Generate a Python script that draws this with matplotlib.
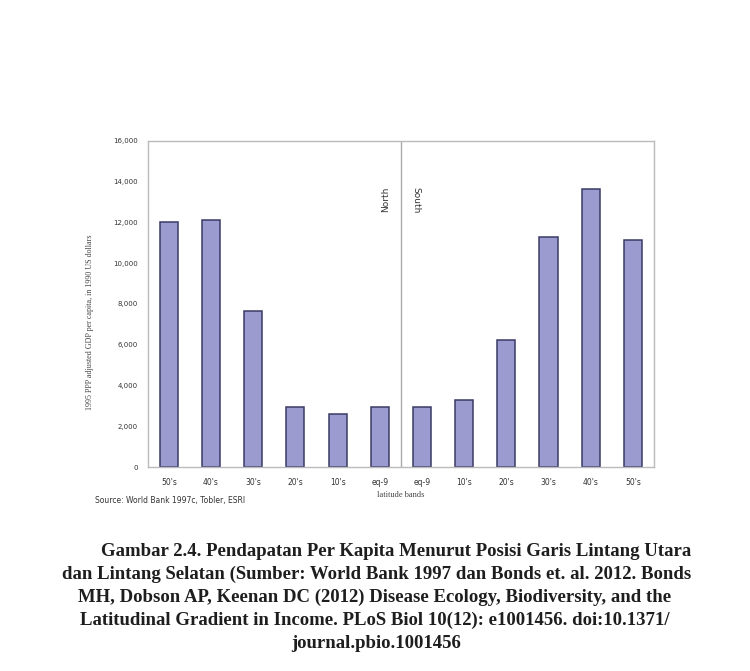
import numpy as np
import matplotlib.pyplot as plt

# data
bands = ["50's", "40's", "30's", "20's", "10's", "eq-9",
         "eq-9", "10's", "20's", "30's", "40's", "50's"]
gdp = [12020, 12120, 7650, 2950, 2600, 2950,
       2950, 3290, 6230, 11290, 13640, 11140]
yticks = [0, 2000, 4000, 6000, 8000, 10000, 12000, 14000, 16000]

caption_lines = [
    "Gambar 2.4. Pendapatan Per Kapita Menurut Posisi Garis Lintang Utara",
    "dan Lintang Selatan (Sumber: World Bank 1997 dan Bonds et. al. 2012. Bonds",
    "MH, Dobson AP, Keenan DC (2012) Disease Ecology, Biodiversity, and the",
    "Latitudinal Gradient in Income. PLoS Biol 10(12): e1001456. doi:10.1371/",
    "journal.pbio.1001456",
]

fig = plt.figure(figsize=(7.5, 6.71), dpi=100)
ax = fig.add_axes([0.197, 0.304, 0.675, 0.486])

x = np.arange(len(bands))
ax.bar(x, gdp, width=0.43, color='#9b9bd0', edgecolor='#3a3a66', linewidth=1.1)
ax.set_xlim(-0.5, len(bands) - 0.5)
ax.set_ylim(0, 16000)
ax.set_yticks(yticks)
ax.set_yticklabels(['{:,}'.format(v) for v in yticks], fontsize=5, color='#333333')
ax.set_xticks(x)
ax.set_xticklabels(bands, fontsize=5.5, color='#333333')
ax.tick_params(axis='y', length=0, pad=7)
ax.tick_params(axis='x', length=0, pad=8)
for s in ax.spines.values():
    s.set_color('#bbbbbb')
    s.set_linewidth(1)

# divider between north and south
ax.axvline(5.5, color='#aaaaaa', linewidth=1)
ax.text(5.15, 13750, 'North', rotation=90, fontsize=6.5, color='#333333',
        ha='center', va='top')
ax.text(5.85, 13750, 'South', rotation=-90, fontsize=6.5, color='#333333',
        ha='center', va='top')

ax.set_ylabel('1995 PPP adjusted GDP per capita, in 1990 US dollars',
              fontsize=5.8, family='Liberation Serif', color='#444444')
ax.yaxis.set_label_coords(-0.107, 0.445)
ax.set_xlabel('latitude bands', fontsize=6, family='Liberation Serif',
              color='#444444', labelpad=3)

fig.text(95 / 750, 1 - 501 / 671, 'Source: World Bank 1997c, Tobler, ESRI',
         fontsize=5.5, color='#333333', va='center')

# caption, first line indented
line_y = [551, 574, 597, 620, 643]
line_x = [396, 377, 375, 375, 376]
for t, lx, ly in zip(caption_lines, line_x, line_y):
    fig.text(lx / 750, 1 - ly / 671, t, ha='center', va='center',
             fontsize=13.5, family='Liberation Serif', fontweight='bold',
             color='#1e1e1e')

fig.savefig('out.png', dpi=100)
